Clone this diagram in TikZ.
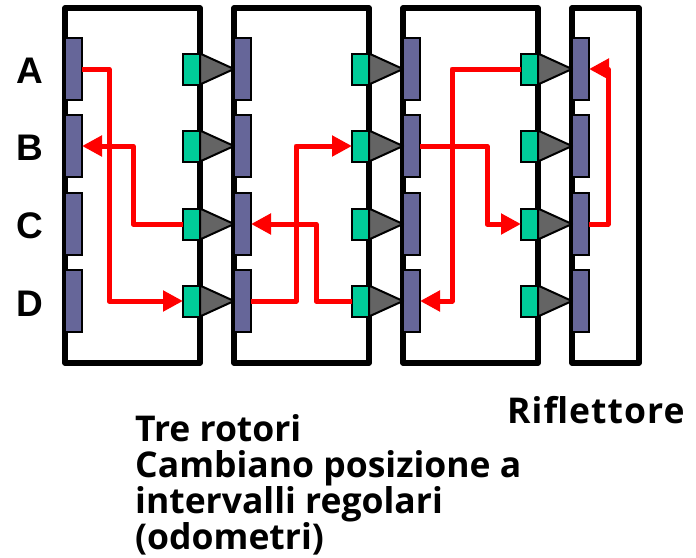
\documentclass[tikz,border=0pt]{standalone}
\usepackage{fontspec}
\setmainfont{Open Sans}
\newfontfamily\labelfont{Liberation Sans}
\usetikzlibrary{arrows.meta}
\tikzset{
	rotor/.style={draw,line width=5.5pt,line join=round},
	pad/.style={draw,fill=padblue,line width=2pt,minimum width=17pt,minimum height=62pt,inner sep=0pt,outer sep=0pt},
	grn/.style={draw,fill=padgreen,line width=2pt,minimum width=17pt,minimum height=31pt,inner sep=0pt,outer sep=0pt},
	tri/.style={draw,fill=trigray,line width=2pt,line join=round},
	wire/.style={draw=red,line width=5pt,line join=round},
	tip/.style={wire,-{Triangle[length=20pt,width=20pt]}},
	rowlabel/.style={font=\labelfont\bfseries\fontsize{37}{37}\selectfont,inner sep=0pt},
	caption/.style={font=\bfseries\fontsize{35.5}{36}\selectfont,align=left,inner sep=0pt}
}
\definecolor{padblue}{HTML}{666699}
\definecolor{padgreen}{HTML}{00CC99}
\definecolor{trigray}{HTML}{646464}
\begin{document}
\begin{tikzpicture}[x=1pt,y=-1pt]
	\useasboundingbox (0,0) rectangle (696,557);
	% frames
	\draw[rotor] (65,8) rectangle (200,363);
	\draw[rotor] (234,8) rectangle (369,363);
	\draw[rotor] (403,8) rectangle (538,363);
	\draw[rotor] (572,8) rectangle (639,363);
	% pads, green blocks and triangles
	\foreach \n/\x in {1/73.5,2/242.5,3/411.5,4/580.5}
		\foreach \r/\y in {a/69,b/146,c/224,d/301}
			\node[pad] (p\n\r) at (\x,\y) {};
	\foreach \n/\x in {1/191.5,2/360.5,3/529.5}
		\foreach \r/\y in {a/69,b/146,c/224,d/301} {
			\node[grn] (g\n\r) at (\x,\y) {};
		}
	\foreach \n/\m in {1/2,2/3,3/4}
		\foreach \r in {a,b,c,d}
			\draw[tri] (g\n\r.north east) -- (p\m\r.west) -- (g\n\r.south east) -- cycle;
	% row letters
	\node[rowlabel] (la) at (30,71) {A};
	\node[rowlabel] (lb) at (30,148) {B};
	\node[rowlabel] (lc) at (30,226) {C};
	\node[rowlabel] (ld) at (30,304) {D};
	% wires
	\draw[tip] (p1a.east) -- ++(27,0) |- (g1d.west);
	\draw[tip] (g1c.west) -- ++(-50,0) |- (p1b.east);
	\draw[tip] (p2d.east) -- ++(45,0) |- (g2b.west);
	\draw[tip] (g2d.west) -- ++(-36,0) |- (p2c.east);
	\draw[tip] (p3b.east) -- ++(67,0) |- (g3c.west);
	\draw[tip] (g3a.west) -- ++(-69,0) |- (p3d.east);
	\draw[tip] (p4c.east) -- ++(19,0) |- (p4a.east);
	% texts
	\node[caption,anchor=north west] (rotori) at (135,414) {Tre rotori\\Cambiano posizione a\\intervalli regolari\\(odometri)};
	\node[caption,anchor=north west] (rifl) at (507,396) {\addfontfeature{LetterSpace=3}Riflettore};
\end{tikzpicture}
\end{document}
